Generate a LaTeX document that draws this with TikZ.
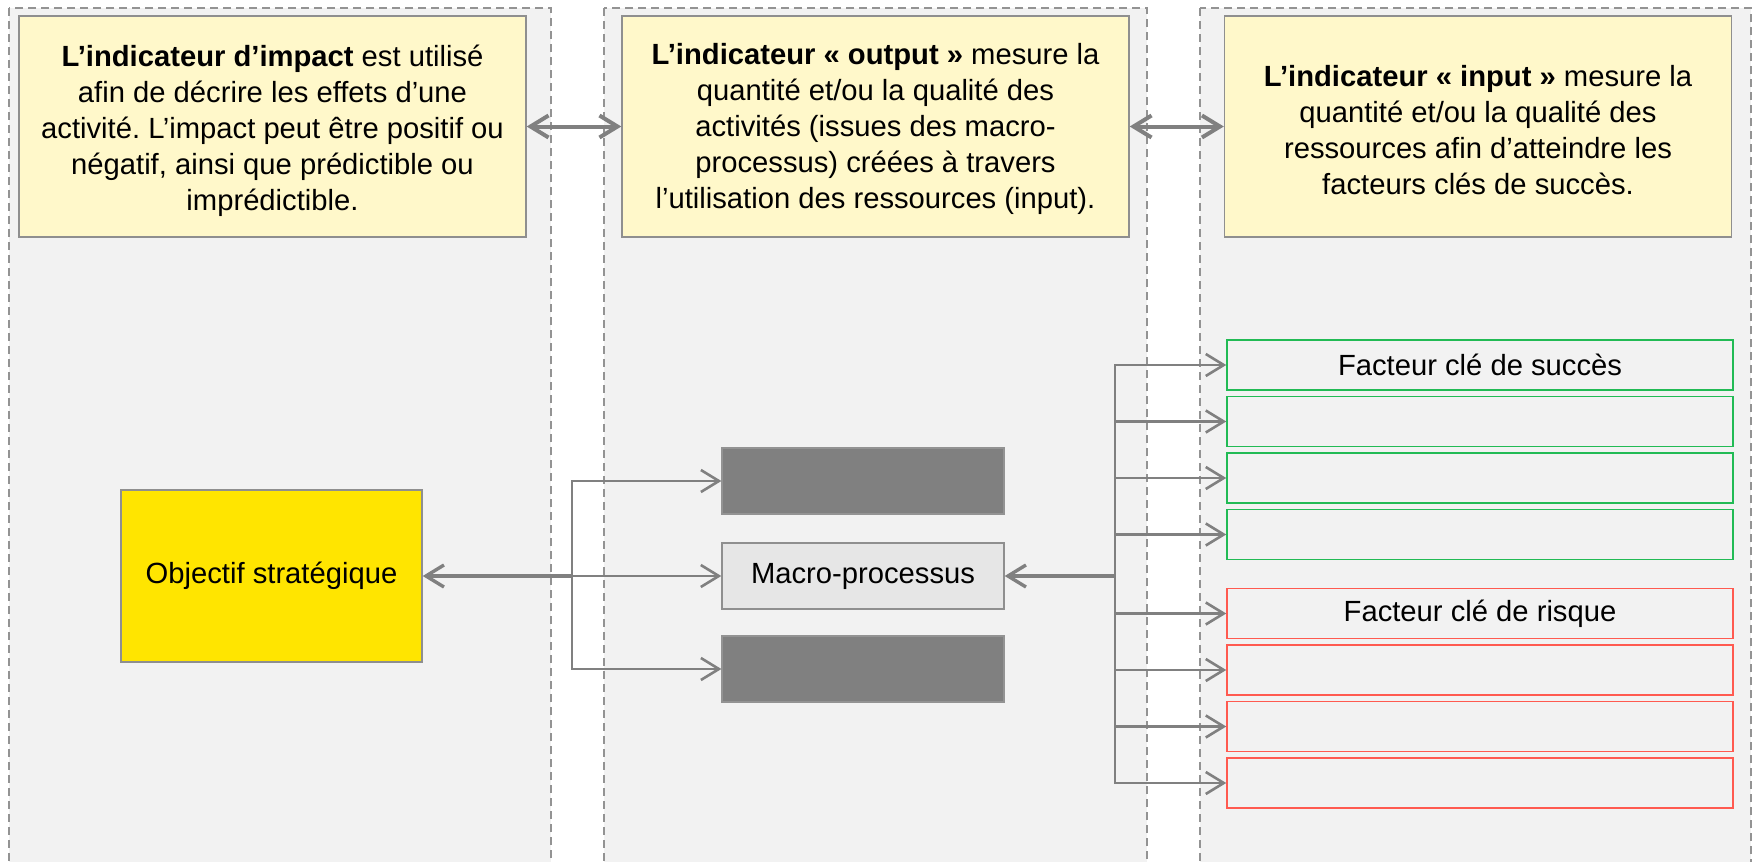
\documentclass[tikz,border=0pt]{standalone}
\usepackage{fontspec}
\setmainfont{Liberation Sans}
\usetikzlibrary{arrows.meta}
\frenchspacing
\definecolor{colbg}{HTML}{F2F2F2}
\definecolor{dashgray}{HTML}{939393}
\definecolor{lightyel}{HTML}{FFF8CA}
\definecolor{boxborder}{HTML}{8F8F8F}
\definecolor{goldyel}{HTML}{FFE500}
\definecolor{darkbox}{HTML}{808080}
\definecolor{macrofill}{HTML}{E6E6E6}
\definecolor{arrgray}{HTML}{808080}
\definecolor{kgreen}{HTML}{22BB55}
\definecolor{kred}{HTML}{FF5A50}
\begin{document}
\begin{tikzpicture}[x=0.5pt,y=-0.5pt,
  font=\fontsize{14.6pt}{18pt}\selectfont,
  column/.style={fill=colbg, draw=dashgray, line width=0.55pt, dash pattern=on 4pt off 2.5pt},
  infobox/.style={draw=boxborder, fill=lightyel, line width=0.7pt, minimum width=253.5pt, minimum height=110.5pt, inner sep=0pt},
  infotext/.style={align=center, inner sep=0pt},
  objbox/.style={draw=boxborder, fill=goldyel, line width=0.7pt, minimum width=150.5pt, minimum height=86pt, inner sep=0pt},
  darkrect/.style={draw=darkbox!85!white, fill=darkbox, line width=0.6pt, minimum width=141pt, minimum height=33pt, inner sep=0pt},
  macrobox/.style={draw=boxborder, fill=macrofill, line width=0.7pt, minimum width=141pt, minimum height=33pt, inner sep=0pt},
  greenbox/.style={draw=kgreen, fill=colbg, line width=0.75pt, minimum width=253pt, minimum height=25pt, inner sep=0pt},
  redbox/.style={draw=kred, fill=colbg, line width=0.75pt, minimum width=253pt, minimum height=25pt, inner sep=0pt},
  bigboth/.style={draw=arrgray, line width=2pt, {Straight Barb[length=9pt,width=11pt]}-{Straight Barb[length=9pt,width=11pt]}},
  thickone/.style={draw=arrgray, line width=1.7pt, -{Straight Barb[length=9pt,width=11pt]}},
  thinone/.style={draw=arrgray, line width=1.3pt, -{Straight Barb[length=9pt,width=11pt]}}
]
\useasboundingbox (0,0) rectangle (1757,862);
\clip (0,0) rectangle (1757,862);

% columns
\path[column] (9,8) rectangle (551,890);
\path[column] (604,8) rectangle (1147,890);
\path[column] (1200,8) rectangle (1751,890);

% top info boxes
\node[infobox] (ind1) at (272.5,126.5) {};
\node[infobox] (ind2) at (875.5,126.5) {};
\node[infobox] (ind3) at (1478,126.5) {};
\node[infotext] (ind1t) at ([yshift=-2pt]ind1.center) {\textbf{L’indicateur d’impact} est utilisé\\afin de décrire les effets d’une\\activité. L’impact peut être positif ou\\négatif, ainsi que prédictible ou\\imprédictible.};
\node[infotext] (ind2t) at ([yshift=-1pt]ind2.center) {\textbf{L’indicateur « output »} mesure la\\quantité et/ou la qualité des\\activités (issues des macro-\\processus) créées à travers\\l’utilisation des ressources (input).};
\node[infotext] (ind3t) at ([yshift=-1.7pt]ind3.center) {\textbf{L’indicateur « input »} mesure la\\quantité et/ou la qualité des\\ressources afin d’atteindre les\\facteurs clés de succès.};

% middle elements
\node[objbox] (obj) at (271.5,576) {Objectif stratégique};
\node[darkrect] (dark1) at (863,481) {};
\node[macrobox] (macro) at (863,576) {Macro-processus};
\node[darkrect] (dark2) at (863,669) {};

% key factor boxes
\node[greenbox] (g1) at (1480,365) {Facteur clé de succès};
\node[greenbox] (g2) at (1480,421.5) {};
\node[greenbox] (g3) at (1480,478) {};
\node[greenbox] (g4) at (1480,534.5) {};
\node[redbox] (r1) at (1480,613.5) {Facteur clé de risque};
\node[redbox] (r2) at (1480,670) {};
\node[redbox] (r3) at (1480,726.5) {};
\node[redbox] (r4) at (1480,783) {};

\coordinate (jn) at (572,576);
\coordinate (tr) at (1115,576);

% connectors
\draw[bigboth] (ind1.east) -- (ind2.west);
\draw[bigboth] (ind2.east) -- (ind3.west);

\draw[thinone] (jn) -- (macro.west);
\draw[thinone] (jn) |- (dark1.west);
\draw[thinone] (jn) |- (dark2.west);
\draw[thickone] (jn) -- (obj.east);

\foreach \b in {g1,g2,g3,g4,r1,r2,r3,r4}{
  \draw[thinone] (tr) |- (\b.west);
}
\draw[thickone] (tr) -- (macro.east);
\end{tikzpicture}
\end{document}
